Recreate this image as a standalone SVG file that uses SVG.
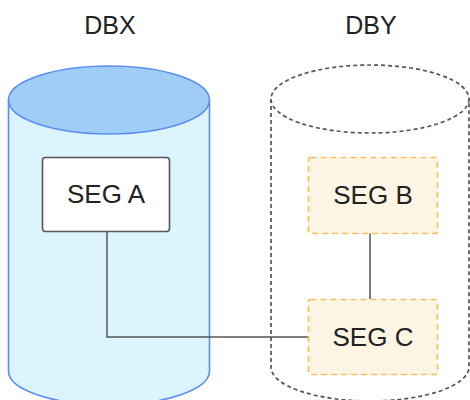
<svg xmlns="http://www.w3.org/2000/svg" width="470" height="400" viewBox="0 0 470 400">
<style>
text{font-family:"Liberation Sans",Arial,sans-serif;font-size:26px;fill:#222;text-anchor:middle}
.lbl{font-size:25px}
.cylx{fill:#dcf4fd;stroke:#5a8cf2;stroke-width:1.6}
.cylxtop{fill:#a0cdf6;stroke:#5a8cf2;stroke-width:1.6}
.cyly{fill:#fff;stroke:#555;stroke-width:1.7;stroke-dasharray:4 3}
.seg{fill:#fff;stroke:#555;stroke-width:1.6}
.segd{fill:#fff5e4;stroke:#f8bf62;stroke-width:1.7;stroke-dasharray:6 4}
.conn{fill:none;stroke:#555;stroke-width:1.5}
</style>
<rect width="470" height="400" fill="#fff"/>
<g id="DBX">
<path class="cylx" d="M8.5,100 L8.5,371 A100.5,34 0 0 0 209.5,371 L209.5,100"/>
<ellipse class="cylxtop" cx="109" cy="100" rx="100.5" ry="34"/>
<text class="lbl" x="110" y="34">DBX</text>
</g>
<g id="DBY">
<path class="cyly" d="M271,99 L271,367 A99,34 0 0 0 469,367 L469,99"/>
<ellipse class="cyly" cx="370" cy="99" rx="99" ry="34"/>
<text class="lbl" x="371" y="34">DBY</text>
</g>
<g id="connectors">
<path class="conn" d="M107,231 L107,337 L308,337"/>
<path class="conn" d="M370,233 L370,299"/>
</g>
<g id="SEGA">
<rect class="seg" x="42.5" y="157.5" width="127" height="74" rx="3"/>
<text x="106" y="203">SEG A</text>
</g>
<g id="SEGB">
<rect class="segd" x="308.5" y="157.5" width="129" height="76" rx="2"/>
<text x="373" y="204">SEG B</text>
</g>
<g id="SEGC">
<rect class="segd" x="308.5" y="299.5" width="129" height="75" rx="2"/>
<text x="373" y="346">SEG C</text>
</g>
</svg>
